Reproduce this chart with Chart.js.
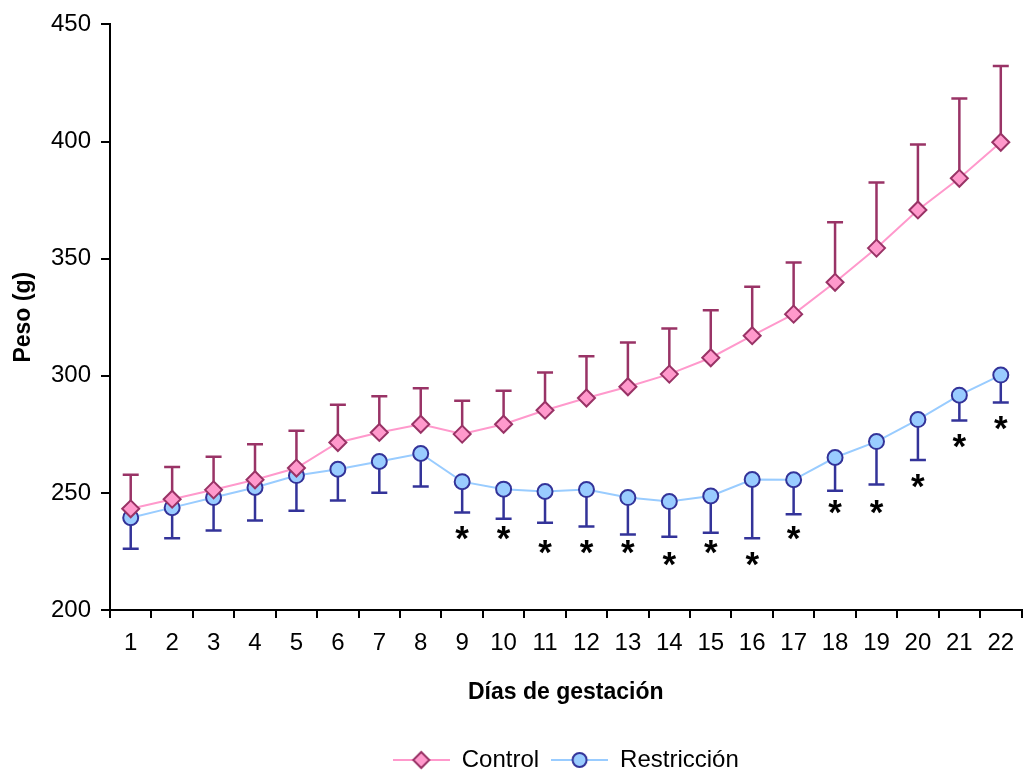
<!DOCTYPE html>
<html>
<head>
<meta charset="utf-8">
<script src="https://cdn.jsdelivr.net/npm/chart.js@4.4.1/dist/chart.umd.min.js"></script>
<style>
    html, body { margin: 0; padding: 0; background: #fff; overflow: hidden; }
</style>
</head>
<body>
<canvas id="peso" width="1032" height="782"></canvas>
<script>
// dias de gestacion
const dias = ['1', '2', '3', '4', '5', '6', '7', '8', '9', '10', '11', '12', '13', '14', '15', '16', '17', '18', '19', '20', '21', '22']

// peso medio (g) y error (solo hacia arriba en control, hacia abajo en restriccion)
const controlPeso = [243.2, 247.3, 251.3, 255.6, 260.6, 271.5, 275.8, 279.3, 275.1, 279.3, 285.3, 290.5, 295.3, 300.7, 307.7, 317.1, 326.3, 339.9, 354.5, 370.8, 384.3, 399.7]
const controlErr = [14.5, 13.8, 14.1, 15.2, 15.9, 16.1, 15.4, 15.4, 14.2, 14.3, 16.1, 17.8, 18.9, 19.5, 20.3, 20.9, 22.1, 25.6, 28.0, 27.9, 34.1, 32.5]

const restriccionPeso = [239.4, 243.7, 248.0, 252.3, 257.4, 260.1, 263.4, 266.8, 254.8, 251.6, 250.6, 251.4, 248.0, 246.3, 248.7, 255.7, 255.6, 265.1, 271.9, 281.3, 291.7, 300.3]
const restriccionErr = [13.2, 13.1, 14.1, 14.1, 15.0, 13.3, 13.3, 14.1, 13.2, 12.6, 13.3, 15.8, 15.8, 15.0, 15.7, 25.1, 14.7, 14.2, 18.3, 17.3, 10.8, 11.7]

// marcas de significacion (*)
const asteriscoDias = ['9', '10', '11', '12', '13', '14', '15', '16', '17', '18', '19', '20', '21', '22']
const asteriscoPeso = [233.0, 233.0, 227.1, 227.1, 227.1, 221.7, 227.1, 221.7, 233.0, 244.1, 244.1, 255.1, 272.2, 280.0]

const fontFamily = '"Liberation Sans", Arial, sans-serif'

function legendIcon(lineColor, fill, border, style) {
    const c = document.createElement('canvas')
    c.width = 57
    c.height = 20
    const ctx = c.getContext('2d')
    ctx.strokeStyle = lineColor
    ctx.lineWidth = 2
    ctx.beginPath()
    ctx.moveTo(0, 10)
    ctx.lineTo(57, 10)
    ctx.stroke()
    ctx.beginPath()
    if (style == 'diamond') {
        ctx.moveTo(28.5, 2)
        ctx.lineTo(36.5, 10)
        ctx.lineTo(28.5, 18)
        ctx.lineTo(20.5, 10)
        ctx.closePath()
    } else {
        ctx.arc(28.5, 10, 7, 0, Math.PI * 2)
    }
    ctx.fillStyle = fill
    ctx.fill()
    ctx.strokeStyle = border
    ctx.lineWidth = 2
    ctx.stroke()
    return c
}

const icons = [
    legendIcon('#FF99CC', '#FF99CC', '#993366', 'diamond'),
    legendIcon('#99CCFF', '#99CCFF', '#333399', 'circle')
]

const errorBars = {
    id: 'errorBars',
    beforeDatasetsDraw(chart) {
        const ctx = chart.ctx
        const x = chart.scales.x
        const y = chart.scales.y
        chart.data.datasets.forEach(ds => {
            if (!ds.errores) return
            ctx.save()
            ctx.strokeStyle = ds.errorColor
            ctx.lineWidth = 2.5
            ds.data.forEach((v, i) => {
                const px = x.getPixelForValue(i)
                const y0 = y.getPixelForValue(v)
                const y1 = y.getPixelForValue(v + ds.errorDir * ds.errores[i])
                ctx.beginPath()
                ctx.moveTo(px, y0)
                ctx.lineTo(px, y1)
                ctx.moveTo(px - 8, y1)
                ctx.lineTo(px + 8, y1)
                ctx.stroke()
            })
            ctx.restore()
        })
    }
}

const asteriscos = {
    id: 'asteriscos',
    afterDatasetsDraw(chart) {
        const ctx = chart.ctx
        const x = chart.scales.x
        const y = chart.scales.y
        ctx.save()
        ctx.fillStyle = '#000'
        ctx.font = 'bold 35px ' + fontFamily
        ctx.textAlign = 'center'
        ctx.textBaseline = 'alphabetic'
        const m = ctx.measureText('*')
        const shift = (m.actualBoundingBoxAscent - m.actualBoundingBoxDescent) / 2
        asteriscoDias.forEach((d, i) => {
            const px = x.getPixelForValue(dias.indexOf(d))
            const py = y.getPixelForValue(asteriscoPeso[i])
            ctx.fillText('*', px, py + shift)
        })
        ctx.restore()
    }
}

const pesoChart = document.getElementById('peso')

new Chart(pesoChart, {
    type: 'line',
    data: {
        labels: dias,
        datasets: [{
            label: 'Control',
            data: controlPeso,
            errores: controlErr,
            errorDir: 1,
            errorColor: '#993366',
            borderColor: '#FF99CC',
            borderWidth: 2,
            pointStyle: 'rectRot',
            pointRadius: 8.5,
            pointBackgroundColor: '#FF99CC',
            pointBorderColor: '#993366',
            pointBorderWidth: 2,
            tension: 0
        }, {
            label: 'Restricción',
            data: restriccionPeso,
            errores: restriccionErr,
            errorDir: -1,
            errorColor: '#333399',
            borderColor: '#99CCFF',
            borderWidth: 2,
            pointStyle: 'circle',
            pointRadius: 7.5,
            pointBackgroundColor: '#99CCFF',
            pointBorderColor: '#333399',
            pointBorderWidth: 2,
            tension: 0
        }]
    },
    options: {
        responsive: false,
        animation: false,
        events: [],
        layout: {
            padding: { left: 0, right: 3, top: 24, bottom: 0 }
        },
        scales: {
            x: {
                offset: true,
                grid: { offset: true, drawOnChartArea: false, tickLength: 8, color: '#000', lineWidth: 2 },
                border: { color: '#000', width: 2 },
                ticks: { color: '#000', font: { family: fontFamily, size: 24 }, padding: 11, maxRotation: 0, autoSkip: false },
                title: {
                    display: true,
                    text: 'Días de gestación',
                    color: '#000',
                    font: { family: fontFamily, size: 23, weight: 'bold' },
                    padding: { top: 0, bottom: 30 }
                },
                afterFit: scale => { scale.height = 126 }
            },
            y: {
                min: 200,
                max: 450,
                grid: { drawOnChartArea: false, tickLength: 9, color: '#000', lineWidth: 2 },
                border: { color: '#000', width: 2 },
                ticks: { stepSize: 50, color: '#000', font: { family: fontFamily, size: 24 }, padding: 10 },
                title: {
                    display: true,
                    text: 'Peso (g)',
                    color: '#000',
                    font: { family: fontFamily, size: 23, weight: 'bold' },
                    padding: { top: 10, bottom: 0 }
                },
                afterFit: scale => { scale.width = 110 }
            }
        },
        plugins: {
            tooltip: { enabled: false },
            legend: {
                position: 'bottom',
                fullSize: false,
                labels: {
                    usePointStyle: true,
                    pointStyleWidth: 57,
                    padding: 12,
                    color: '#000',
                    font: { family: fontFamily, size: 24 },
                    generateLabels: chart => chart.data.datasets.map((ds, i) => ({
                        text: ds.label,
                        pointStyle: icons[i],
                        datasetIndex: i,
                        fontColor: '#000',
                        lineWidth: 0,
                        hidden: false
                    }))
                }
            }
        }
    },
    plugins: [errorBars, asteriscos]
});
</script>
</body>
</html>
